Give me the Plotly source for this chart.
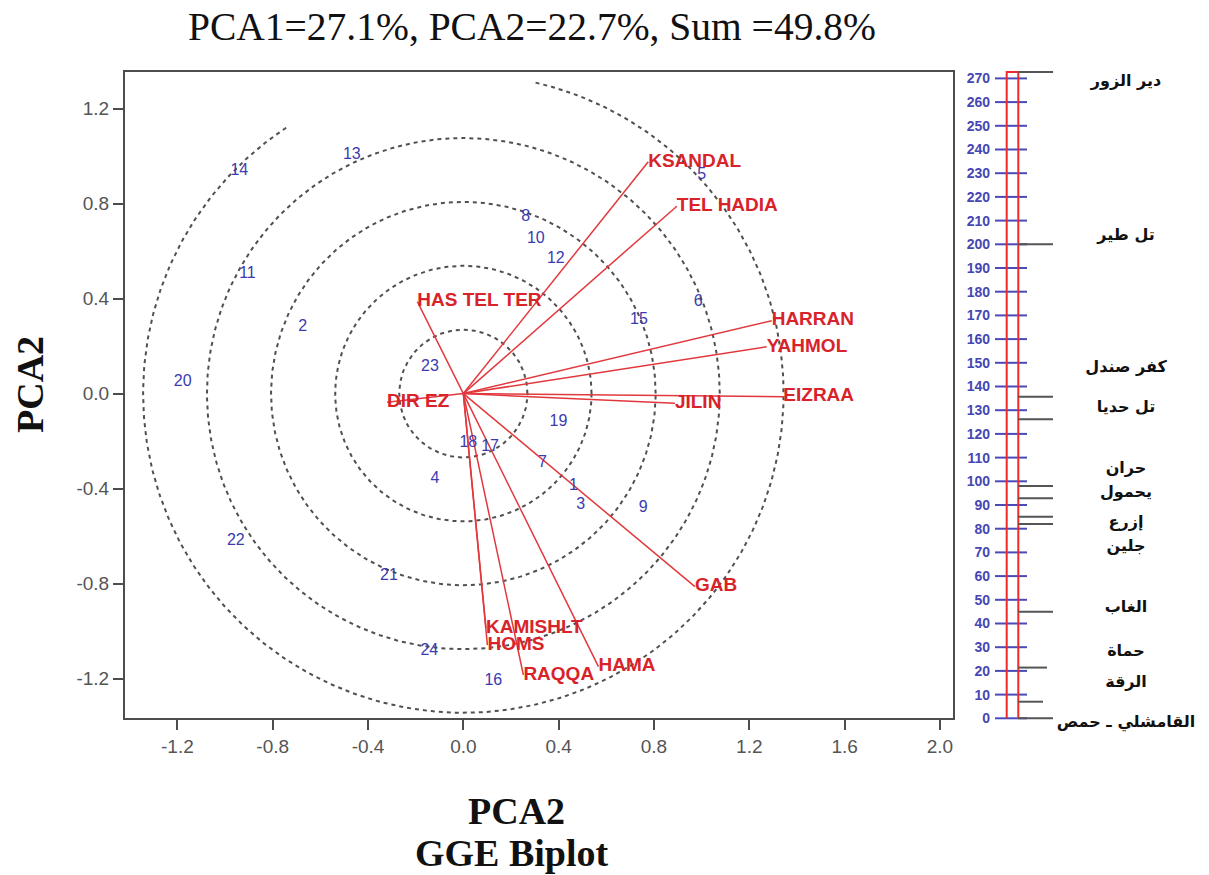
import math
import plotly.graph_objects as go

# ---------------- data ----------------
geno_labels = [str(i) for i in range(1, 25)]
geno_pc1 = [0.462, -0.674, 0.493, -0.119, 1.000, 0.986, 0.332, 0.262, 0.755, 0.304, -0.906, 0.388,
            -0.468, -0.940, 0.737, 0.126, 0.112, 0.021, 0.399, -1.178, -0.312, -0.955, -0.140, -0.143]
geno_pc2 = [-0.389, 0.280, -0.469, -0.361, 0.920, 0.384, -0.294, 0.742, -0.483, 0.649, 0.502, 0.566,
            1.005, 0.939, 0.309, -1.209, -0.227, -0.210, -0.119, 0.048, -0.768, -0.621, 0.110, -1.083]

env_names = ["KSANDAL", "TEL HADIA", "HAS TEL TER", "HARRAN", "YAHMOL", "EIZRAA", "JILIN",
             "DIR EZ", "GAB", "HAMA", "RAQQA", "KAMISHLT", "HOMS"]
env_pc1 = [0.776, 0.896, -0.193, 1.294, 1.273, 1.343, 0.888, -0.320, 0.972, 0.567, 0.252, 0.095, 0.101]
env_pc2 = [0.976, 0.789, 0.387, 0.307, 0.197, -0.013, -0.041, -0.036, -0.813, -1.150, -1.185, -0.987, -1.059]

x_ticks = [-1.2, -0.8, -0.4, 0.0, 0.4, 0.8, 1.2, 1.6, 2.0]
y_ticks = [-1.2, -0.8, -0.4, 0.0, 0.4, 0.8, 1.2]

scale_names = ["دير الزور", "تل طير", "كفر صندل", "تل حديا", "حران", "يحمول", "إزرع", "جلين",
               "الغاب", "حماة", "الرقة", "القامشلي ـ حمص"]
scale_values = [272.7, 200, 135.7, 126.2, 98, 92.8, 85, 82, 45, 21.4, 7, 0]
scale_ticks = list(range(0, 271, 10))

title_text = "PCA1=27.1%, PCA2=22.7%, Sum =49.8%"

# ---------------- layout helpers (positions / styles) ----------------
W, H = 1209, 875
circle_radii = [0.269, 0.538, 0.807, 1.076]
outer_radius = 1.344
outer_arc_deg = (123.6, 437.0)
scale_label_y = [268.6, 203.6, 147.7, 130.8, 105.2, 94.9, 82.3, 72.4, 46.4, 28.1, 14.8, -2.0]
scale_line_end = [1053, 1053, 1053, 1053, 1053, 1053, 1053, 1053, 1053, 1047, 1043, 1053]

RED = "#d8232a"
REDLINE = "#e2383d"
BLUE = "#3b3bb0"
GRAY = "#4d4d4d"

fig = go.Figure()

# concentric dotted circles
cx, cy = [], []
for r in circle_radii:
    for i in range(361):
        t = math.radians(i)
        cx.append(r * math.cos(t)); cy.append(r * math.sin(t))
    cx.append(None); cy.append(None)
a0, a1 = outer_arc_deg
n = 400
for i in range(n + 1):
    t = math.radians(a0 + (a1 - a0) * i / n)
    cx.append(outer_radius * math.cos(t)); cy.append(outer_radius * math.sin(t))
fig.add_trace(go.Scatter(x=cx, y=cy, mode="lines", line=dict(color="#505050", width=2, dash="4px,4px"),
                         hoverinfo="skip", showlegend=False))

# environment vectors
vx, vy = [], []
for ex, ey in zip(env_pc1, env_pc2):
    vx += [0, ex, None]; vy += [0, ey, None]
fig.add_trace(go.Scatter(x=vx, y=vy, mode="lines", line=dict(color=REDLINE, width=1.5),
                         hoverinfo="skip", showlegend=False))
fig.add_trace(go.Scatter(x=env_pc1, y=env_pc2, mode="text", text=env_names, textposition="middle right",
                         textfont=dict(family="Liberation Sans", size=19, color=RED, weight="bold"),
                         showlegend=False))

# genotypes
fig.add_trace(go.Scatter(x=geno_pc1, y=geno_pc2, mode="text", text=geno_labels, textposition="middle center",
                         textfont=dict(family="Liberation Sans", size=16, color=BLUE),
                         showlegend=False))

# ---------------- right scale panel ----------------
tx, ty = [], []
for v in scale_ticks:
    tx += [995, 1027, None]; ty += [v, v, None]
fig.add_trace(go.Scatter(x=tx, y=ty, xaxis="x2", yaxis="y2", mode="lines",
                         line=dict(color="#4a4ab8", width=2), hoverinfo="skip", showlegend=False))
top = max(scale_values)
fig.add_trace(go.Scatter(x=[1006.7, 1006.7, 1018.3, 1018.3], y=[0, top, top, 0], xaxis="x2", yaxis="y2",
                         mode="lines", line=dict(color="#ee2a2a", width=2), hoverinfo="skip", showlegend=False))
gx, gy = [], []
for v, xe in zip(scale_values, scale_line_end):
    gx += [1018.3, xe, None]; gy += [v, v, None]
fig.add_trace(go.Scatter(x=gx, y=gy, xaxis="x2", yaxis="y2", mode="lines",
                         line=dict(color="#555555", width=2), hoverinfo="skip", showlegend=False))
fig.add_trace(go.Scatter(x=[1126] * len(scale_names), y=scale_label_y, xaxis="x2", yaxis="y2", mode="text",
                         text=scale_names, textposition="middle center",
                         textfont=dict(family="DejaVu Sans", size=16, color="#111111", weight="bold"),
                         showlegend=False))

# ---------------- axes ----------------
def px2fx(p):
    return p / W

def py2fy(p):
    return 1 - p / H

fig.update_layout(
    width=W, height=H, margin=dict(l=0, r=0, t=0, b=0),
    paper_bgcolor="white", plot_bgcolor="white", showlegend=False,
    xaxis=dict(domain=[px2fx(125), px2fx(953)], range=[-1.420, 2.055], tickvals=x_ticks,
               ticktext=[f"{v:.1f}" for v in x_ticks], showgrid=False, zeroline=False,
               showline=True, mirror=True, linecolor=GRAY, linewidth=2,
               ticks="outside", ticklen=10, tickwidth=1.5, tickcolor=GRAY,
               tickfont=dict(family="Liberation Sans", size=19, color="#555555")),
    yaxis=dict(domain=[py2fy(718), py2fy(72)], range=[-1.366, 1.354], tickvals=y_ticks,
               ticktext=[f"{v:.1f}" for v in y_ticks], showgrid=False, zeroline=False,
               showline=True, mirror=True, linecolor=GRAY, linewidth=2,
               ticks="outside", ticklen=10, tickwidth=1.5, tickcolor=GRAY,
               tickfont=dict(family="Liberation Sans", size=19, color="#555555")),
    xaxis2=dict(domain=[px2fx(993), 1], range=[993, 1209], visible=False, anchor="y2"),
    yaxis2=dict(domain=[0, 1], range=[(718.3 - H) / 2.37, 718.3 / 2.37], anchor="x2",
                tickvals=scale_ticks, showgrid=False, zeroline=False, showline=False, ticks="",
                ticklabelstandoff=2,
                tickfont=dict(family="Liberation Sans", size=14, color="#4646b4", weight="bold")),
)

fig.add_annotation(text=title_text, x=px2fx(532), y=py2fy(27), xref="paper", yref="paper",
                   showarrow=False, xanchor="center", yanchor="middle",
                   font=dict(family="Liberation Serif", size=39.5, color="#111111"))
fig.add_annotation(text="<b>PCA2</b>", x=px2fx(516), y=py2fy(811), xref="paper", yref="paper",
                   showarrow=False, xanchor="center", yanchor="middle",
                   font=dict(family="Liberation Serif", size=38, color="#111111"))
fig.add_annotation(text="<b>GGE Biplot</b>", x=px2fx(512), y=py2fy(853), xref="paper", yref="paper",
                   showarrow=False, xanchor="center", yanchor="middle",
                   font=dict(family="Liberation Serif", size=38, color="#111111"))
fig.add_annotation(text="<b>PCA2</b>", x=px2fx(30), y=py2fy(385), xref="paper", yref="paper",
                   showarrow=False, xanchor="center", yanchor="middle", textangle=-90,
                   font=dict(family="Liberation Serif", size=38, color="#111111"))

fig.write_html("out.html", config={"displayModeBar": False},
               post_script="document.body.style.margin='0';")
